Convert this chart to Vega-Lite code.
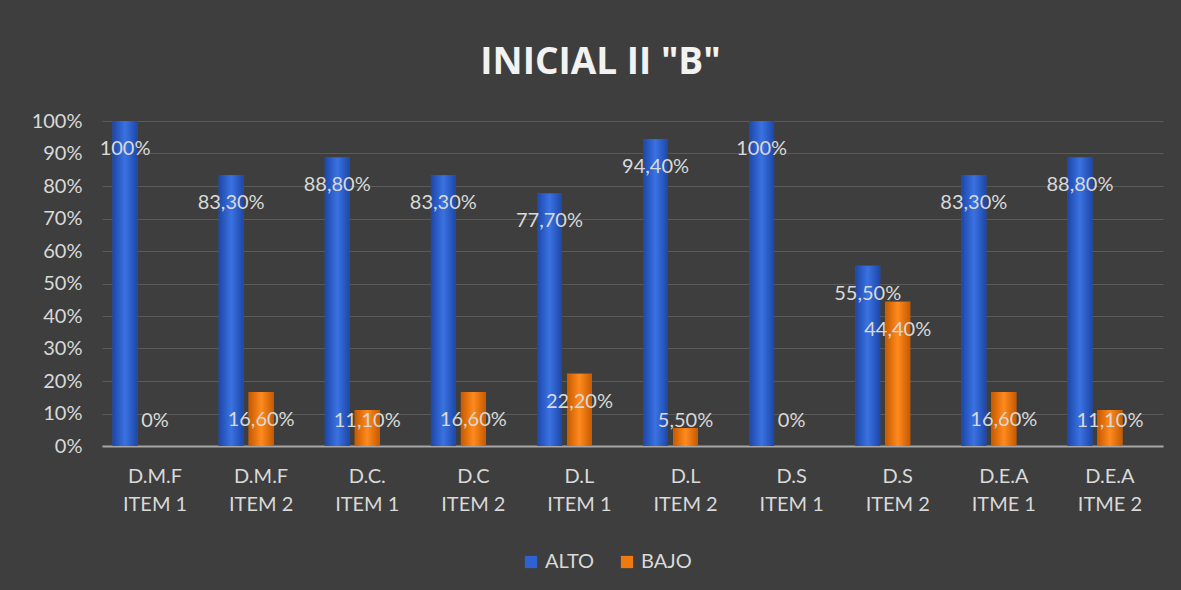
{
  "$schema": "https://vega.github.io/schema/vega-lite/v6.json",
  "autosize": {"type": "none"},
  "width": 1061,
  "height": 325,
  "padding": {"left": 102, "top": 121, "right": 18, "bottom": 144},
  "background": "#3e3e3e",
  "config": {"view": {"stroke": null}},
  "title": {
    "text": "INICIAL II \"B\"",
    "anchor": "middle",
    "frame": "group",
    "fontSize": 37,
    "font": "Open Sans",
    "fontWeight": "bold",
    "color": "#f2f2f2",
    "baseline": "alphabetic",
    "offset": 0,
    "dx": -32
  },
  "data": {
    "values": [
      {"cat": "D.M.F|ITEM 1", "serie": "ALTO", "value": 100},
      {"cat": "D.M.F|ITEM 1", "serie": "BAJO", "value": 0},
      {"cat": "D.M.F|ITEM 2", "serie": "ALTO", "value": 83.3},
      {"cat": "D.M.F|ITEM 2", "serie": "BAJO", "value": 16.6},
      {"cat": "D.C.|ITEM 1", "serie": "ALTO", "value": 88.8},
      {"cat": "D.C.|ITEM 1", "serie": "BAJO", "value": 11.1},
      {"cat": "D.C|ITEM 2", "serie": "ALTO", "value": 83.3},
      {"cat": "D.C|ITEM 2", "serie": "BAJO", "value": 16.6},
      {"cat": "D.L|ITEM 1", "serie": "ALTO", "value": 77.7},
      {"cat": "D.L|ITEM 1", "serie": "BAJO", "value": 22.2},
      {"cat": "D.L|ITEM 2", "serie": "ALTO", "value": 94.4},
      {"cat": "D.L|ITEM 2", "serie": "BAJO", "value": 5.5},
      {"cat": "D.S|ITEM 1", "serie": "ALTO", "value": 100},
      {"cat": "D.S|ITEM 1", "serie": "BAJO", "value": 0},
      {"cat": "D.S|ITEM 2", "serie": "ALTO", "value": 55.5},
      {"cat": "D.S|ITEM 2", "serie": "BAJO", "value": 44.4},
      {"cat": "D.E.A|ITME 1", "serie": "ALTO", "value": 83.3},
      {"cat": "D.E.A|ITME 1", "serie": "BAJO", "value": 16.6},
      {"cat": "D.E.A|ITME 2", "serie": "ALTO", "value": 88.8},
      {"cat": "D.E.A|ITME 2", "serie": "BAJO", "value": 11.1}
    ]
  },
  "encoding": {
    "x": {
      "field": "cat",
      "type": "nominal",
      "sort": null,
      "scale": {"paddingInner": 0.2, "paddingOuter": 0.1},
      "axis": {
        "title": null,
        "labelAngle": 0,
        "labelExpr": "split(datum.value, '|')",
        "labelFont": "Lato",
        "labelFontSize": 20,
        "labelColor": "#d9d9d9",
        "labelLineHeight": 28,
        "labelPadding": 20,
        "ticks": false,
        "domainColor": "#a6a6a6",
        "domainWidth": 2,
        "grid": false
      }
    },
    "xOffset": {
      "field": "serie",
      "type": "nominal",
      "scale": {"domain": ["ALTO", "BAJO", "-"], "paddingInner": 0.17, "paddingOuter": 0}
    },
    "y": {
      "field": "value",
      "type": "quantitative",
      "scale": {"domain": [0, 100]},
      "axis": {
        "title": null,
        "values": [0, 10, 20, 30, 40, 50, 60, 70, 80, 90, 100],
        "labelExpr": "datum.value + '%'",
        "labelFont": "Lato",
        "labelFontSize": 20,
        "labelColor": "#d9d9d9",
        "labelPadding": 20,
        "ticks": false,
        "domain": false,
        "gridColor": "#5a5a5a",
        "gridWidth": 1
      }
    }
  },
  "layer": [
    {
      "mark": {"type": "bar"},
      "encoding": {
        "color": {
          "field": "serie",
          "type": "nominal",
          "scale": {"domain": ["ALTO", "BAJO"], "range": ["#2e62d2", "#f07a12"]},
          "legend": {
            "title": null,
            "orient": "none",
            "direction": "horizontal",
            "legendX": 419,
            "legendY": 431,
            "symbolType": "square",
            "symbolSize": 150,
            "symbolStrokeWidth": 0,
            "labelFont": "Lato",
            "labelFontSize": 20,
            "labelColor": "#d9d9d9",
            "columnPadding": 22,
            "labelOffset": 4
          }
        }
      }
    },
    {
      "transform": [{"filter": "datum.serie == 'ALTO'"}],
      "mark": {
        "type": "bar",
        "color": {"gradient": "linear", "x1": 0, "x2": 1, "y1": 0, "y2": 0, "stops": [{"offset": 0, "color": "#1d47a8"}, {"offset": 0.5, "color": "#3a72e2"}, {"offset": 1, "color": "#1d47a8"}]}
      }
    },
    {
      "transform": [{"filter": "datum.serie == 'BAJO'"}],
      "mark": {
        "type": "bar",
        "color": {"gradient": "linear", "x1": 0, "x2": 1, "y1": 0, "y2": 0, "stops": [{"offset": 0, "color": "#c75a00"}, {"offset": 0.5, "color": "#ff8a1e"}, {"offset": 1, "color": "#c75a00"}]}
      }
    },
    {
      "transform": [
        {"calculate": "max(datum.value - 8.6, 7.7)", "as": "labpos"},
        {"calculate": "(datum.value == 0 || datum.value == 100) ? datum.value + '%' : replace(format(datum.value, '.2f'), '.', ',') + '%'", "as": "lab"}
      ],
      "mark": {"type": "text", "font": "Lato", "fontSize": 20, "color": "#d9d9d9", "baseline": "middle", "align": "center"},
      "encoding": {
        "y": {"field": "labpos", "type": "quantitative"},
        "text": {"field": "lab"}
      }
    }
  ]
}
